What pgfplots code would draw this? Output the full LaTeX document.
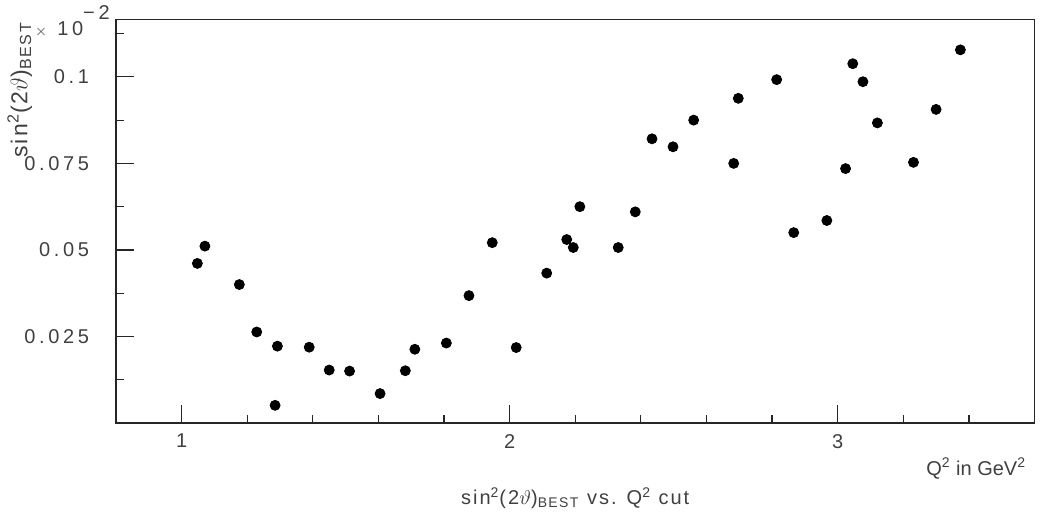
\documentclass[border=0pt]{standalone}
\usepackage{fontspec}
\setmainfont{Liberation Sans}[LetterSpace=10]
\newfontfamily\tickfont{Liberation Sans}[LetterSpace=18]
\newfontfamily\plainfont{Liberation Sans}
\usepackage{pgfplots}
\pgfplotsset{compat=1.18}

\begin{document}
\begin{tikzpicture}
\path[use as bounding box] (-58pt,-48.5pt) rectangle (463pt,211.5pt);
\begin{axis}[
  at={(0,0)}, anchor=south west,
  scale only axis,
  width=459.25pt, height=201.8pt,
  xmin=0.8, xmax=3.6,
  ymin=0, ymax=0.1166,
  xtick={1,2,3}, xticklabels={1,2,3},
  minor xtick={0.8,1.2,1.4,1.6,1.8,2.2,2.4,2.6,2.8,3.2,3.4,3.6},
  ytick={0.025,0.05,0.075,0.1}, yticklabels={0.025,0.05,0.075,0.1},
  minor ytick={0.0125,0.0375,0.0625,0.0875,0.1125},
  xtick pos=bottom, ytick pos=left,
  tick align=inside,
  major tick length=8.8pt, minor tick length=4.2pt,
  axis line style={line width=0.6pt, black!85},
  tick style={line width=0.6pt, black!85},
  ticklabel style={font=\tickfont, color=black!75},
  xticklabel style={yshift=-2pt},
  yticklabel style={xshift=-10pt},
  ylabel={sin\textsuperscript{2}(2$\vartheta$)\textsubscript{BEST}},
  every axis y label/.style={
    at={(axis description cs:-0.0964,0.995)},
    rotate=90, anchor=base east, inner sep=0pt,
    color=black!75, font={\fontsize{11.5}{14}\selectfont},
  },
  clip=false,
]
\addplot[only marks, mark=*, mark size=2.5pt, color=black] coordinates {
  (1.048,0.0461) (1.071,0.0511) (1.176,0.0400) (1.229,0.0263)
  (1.292,0.0222) (1.285,0.0051) (1.389,0.0219) (1.450,0.0153)
  (1.512,0.0150) (1.605,0.0085) (1.682,0.0151) (1.711,0.0213)
  (1.807,0.0231) (1.876,0.0368) (1.947,0.0521) (2.020,0.0218)
  (2.113,0.0433) (2.174,0.0530) (2.194,0.0507) (2.214,0.0625)
  (2.331,0.0507) (2.383,0.0610) (2.434,0.0821) (2.498,0.0798)
  (2.561,0.0875) (2.683,0.0750) (2.697,0.0938) (2.814,0.0992)
  (2.866,0.0550) (2.967,0.0585) (3.024,0.0735) (3.046,0.1038)
  (3.077,0.0986) (3.121,0.0867) (3.231,0.0753) (3.300,0.0906)
  (3.374,0.1078)
};
\end{axis}
% labels placed relative to the axis box (lower left at origin)
\node[anchor=base, color=black!75] at (229.6pt,-40.7pt)
  {sin\textsuperscript{2}(2$\vartheta$)\textsubscript{BEST} vs. Q\textsuperscript{2} cut};
\node[anchor=base east, inner sep=0pt, color=black!75] at (455.25pt,-26pt)
  {\plainfont Q\textsuperscript{2} in GeV\textsuperscript{2}};
\node[anchor=base west, inner sep=0pt, color=black!75] at (-40.75pt,193.8pt)
  {{\scriptsize$\times$}\hspace{5pt}{\tickfont 10\raisebox{8pt}{−2}}};
\end{tikzpicture}
\end{document}
